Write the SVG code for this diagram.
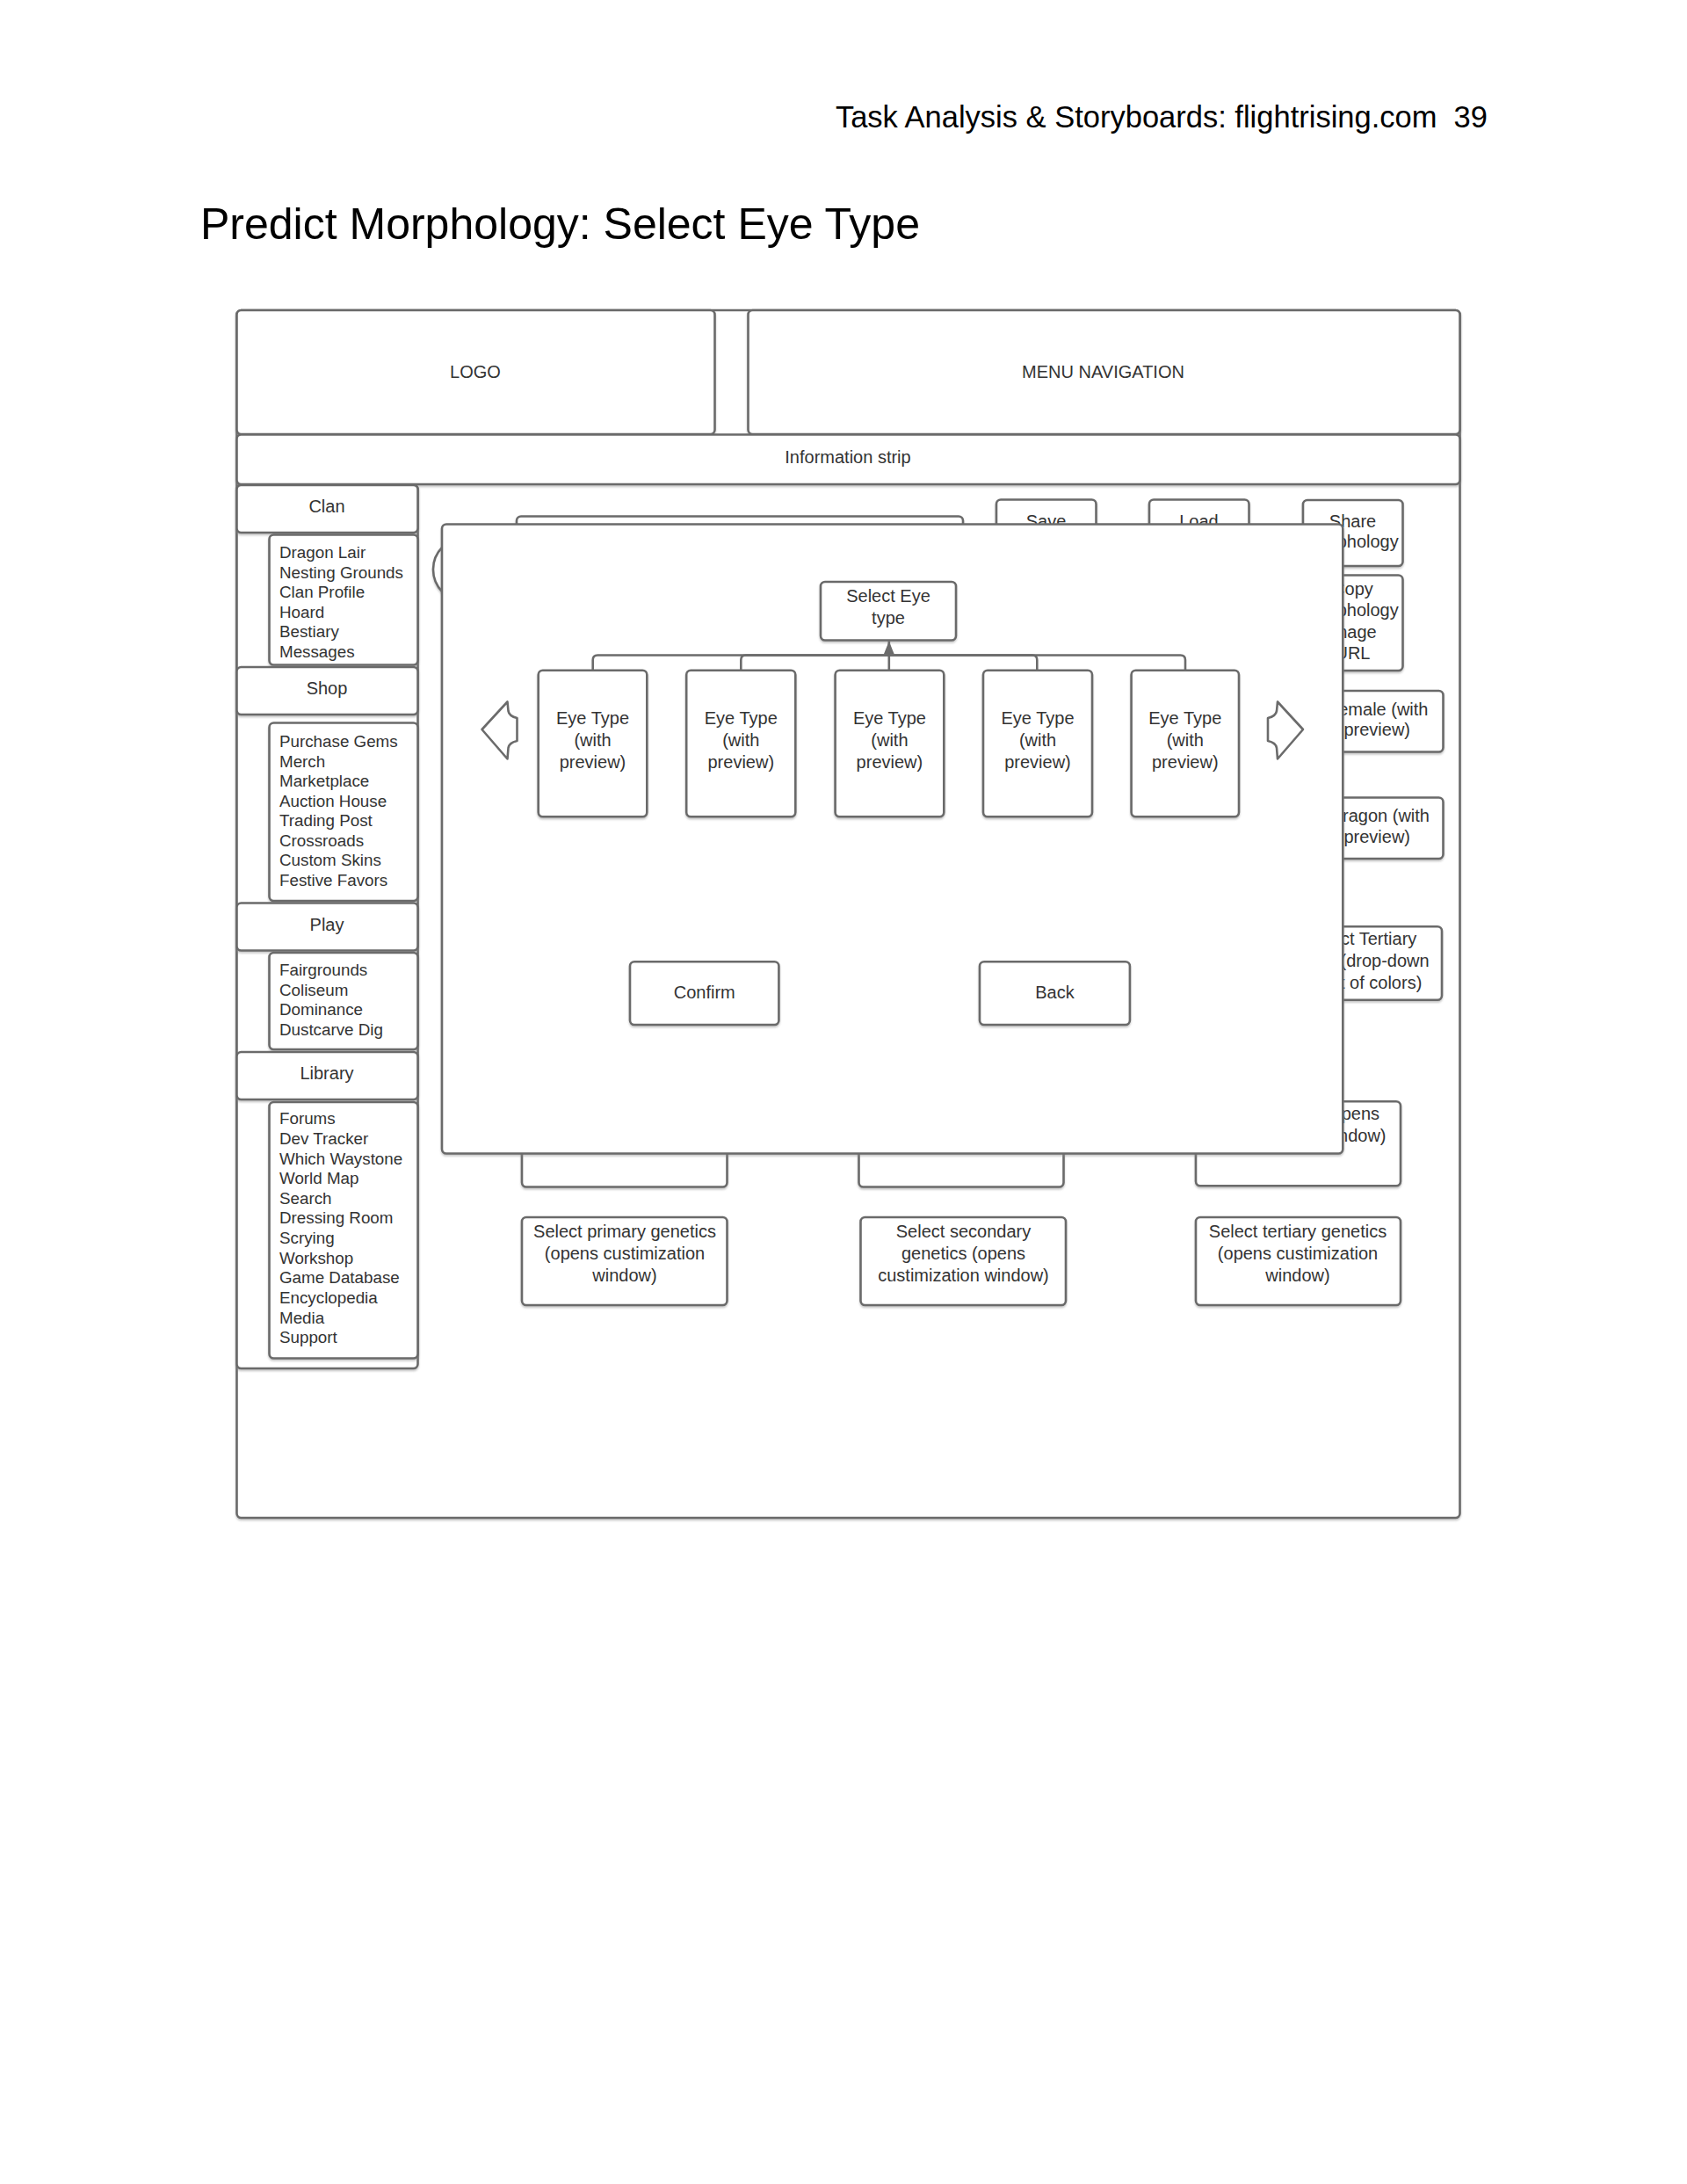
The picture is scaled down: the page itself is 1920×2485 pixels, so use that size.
<svg xmlns="http://www.w3.org/2000/svg" width="1920" height="2485" viewBox="0 0 1920 2485">
<style>
  .b { fill:#fff; stroke:#6b6b6b; stroke-width:2.6; filter:url(#sh); }
  .t { font-family:"Liberation Sans", Arial, Helvetica, sans-serif; font-size:20px; fill:#333; }
  .c { text-anchor:middle; }
  .e { text-anchor:end; }
  .n { font-family:"Liberation Sans", Arial, Helvetica, sans-serif; font-size:18.8px; fill:#333; }
  .h { font-family:"Liberation Sans", Arial, Helvetica, sans-serif; fill:#000; }
  .ln { fill:none; stroke:#6b6b6b; stroke-width:2.6; }
</style>
<defs>
  <filter id="sh" x="-5%" y="-5%" width="110%" height="115%">
    <feDropShadow dx="0" dy="2" stdDeviation="0.8" flood-color="#888" flood-opacity="0.45"/>
  </filter>
  <marker id="arr" viewBox="0 0 15 12" refX="15" refY="6" markerWidth="15" markerHeight="12" markerUnits="userSpaceOnUse" orient="auto">
    <path d="M0,0 L15,6 L0,12 Z" fill="#6b6b6b"/>
  </marker>
  <path id="larrow" d="M548.5,830 L577.5,798.5 L578.5,809 Q579.5,815 588.5,817 V843 Q579.5,845 578.5,851 L577.5,863.5 Z"/>
</defs>
<rect width="1920" height="2485" fill="#fff"/>

<g id="page-header">
  <text class="h" x="1693" y="145" font-size="34.5" text-anchor="end" xml:space="preserve">Task Analysis &amp; Storyboards: flightrising.com  39</text>
  <text class="h" x="228" y="272" font-size="50">Predict Morphology: Select Eye Type</text>
</g>

<g id="frame"><rect class="b" x="269.5" y="353" width="1392" height="1374" rx="5"/></g>
<g id="logo"><rect class="b" x="269.5" y="353" width="544" height="141" rx="5"/><text class="t c" x="541" y="430">LOGO</text></g>
<g id="menu-navigation"><rect class="b" x="851.5" y="353" width="810" height="141" rx="5"/><text class="t c" x="1255.5" y="430">MENU NAVIGATION</text></g>
<g id="information-strip"><rect class="b" x="269.5" y="494.5" width="1392" height="56.5" rx="5"/><text class="t c" x="965" y="527">Information strip</text></g>

<g id="left-nav">
  <rect class="b" x="269.5" y="551.5" width="206" height="1005.5" rx="5"/>
  <g id="clan">
    <rect class="b" x="269.5" y="552" width="206" height="54" rx="5"/>
    <text class="t c" x="372" y="583">Clan</text>
    <rect class="b" x="306.5" y="608.5" width="169" height="148" rx="5"/>
    <text class="n" x="318" y="635"><tspan x="318">Dragon Lair</tspan><tspan x="318" dy="22.5">Nesting Grounds</tspan><tspan x="318" dy="22.5">Clan Profile</tspan><tspan x="318" dy="22.5">Hoard</tspan><tspan x="318" dy="22.5">Bestiary</tspan><tspan x="318" dy="22.5">Messages</tspan></text>
  </g>
  <g id="shop">
    <rect class="b" x="269.5" y="759" width="206" height="54" rx="5"/>
    <text class="t c" x="372" y="790">Shop</text>
    <rect class="b" x="306.5" y="822.5" width="169" height="202.5" rx="5"/>
    <text class="n" x="318" y="850"><tspan x="318">Purchase Gems</tspan><tspan x="318" dy="22.57">Merch</tspan><tspan x="318" dy="22.57">Marketplace</tspan><tspan x="318" dy="22.57">Auction House</tspan><tspan x="318" dy="22.57">Trading Post</tspan><tspan x="318" dy="22.57">Crossroads</tspan><tspan x="318" dy="22.57">Custom Skins</tspan><tspan x="318" dy="22.57">Festive Favors</tspan></text>
  </g>
  <g id="play">
    <rect class="b" x="269.5" y="1027.5" width="206" height="54" rx="5"/>
    <text class="t c" x="372" y="1059">Play</text>
    <rect class="b" x="306.5" y="1084" width="169" height="110" rx="5"/>
    <text class="n" x="318" y="1110"><tspan x="318">Fairgrounds</tspan><tspan x="318" dy="22.5">Coliseum</tspan><tspan x="318" dy="22.5">Dominance</tspan><tspan x="318" dy="22.5">Dustcarve Dig</tspan></text>
  </g>
  <g id="library">
    <rect class="b" x="269.5" y="1197" width="206" height="54" rx="5"/>
    <text class="t c" x="372" y="1228">Library</text>
    <rect class="b" x="306.5" y="1254" width="169" height="291.5" rx="5"/>
    <text class="n" x="318" y="1279.3"><tspan x="318">Forums</tspan><tspan x="318" dy="22.63">Dev Tracker</tspan><tspan x="318" dy="22.63">Which Waystone</tspan><tspan x="318" dy="22.63">World Map</tspan><tspan x="318" dy="22.63">Search</tspan><tspan x="318" dy="22.63">Dressing Room</tspan><tspan x="318" dy="22.63">Scrying</tspan><tspan x="318" dy="22.63">Workshop</tspan><tspan x="318" dy="22.63">Game Database</tspan><tspan x="318" dy="22.63">Encyclopedia</tspan><tspan x="318" dy="22.63">Media</tspan><tspan x="318" dy="22.63">Support</tspan></text>
  </g>
</g>

<g id="background-page">
  <g id="preview-area"><rect class="b" x="588" y="587.5" width="508" height="120" rx="5"/><circle class="b" cx="529" cy="648" r="36"/></g>
  <g id="save"><rect class="b" x="1134" y="568.5" width="113.5" height="70" rx="5"/><text class="t c" x="1190.5" y="600">Save</text></g>
  <g id="load"><rect class="b" x="1308" y="568.5" width="113.5" height="70" rx="5"/><text class="t c" x="1364.5" y="600">Load</text></g>
  <g id="share"><rect class="b" x="1483" y="569" width="113.5" height="75" rx="5"/><text class="t c" x="1539.5" y="600"><tspan x="1539.5">Share</tspan><tspan x="1539.5" dy="23">morphology</tspan></text></g>
  <g id="copy"><rect class="b" x="1483" y="654.5" width="113.5" height="108.5" rx="5"/><text class="t c" x="1539.5" y="676.5"><tspan x="1539.5">Copy</tspan><tspan x="1539.5" dy="24.5">morphology</tspan><tspan x="1539.5" dy="24.5">image</tspan><tspan x="1539.5" dy="24.5">URL</tspan></text></g>
  <g id="female"><rect class="b" x="1470" y="786" width="172.5" height="69.5" rx="5"/><text class="t e" x="1625.5" y="813.5"><tspan x="1625.5">Female (with</tspan><tspan x="1605" dy="23.5">preview)</tspan></text></g>
  <g id="dragon"><rect class="b" x="1470" y="907.5" width="172.5" height="69.5" rx="5"/><text class="t e" x="1627" y="935"><tspan x="1627">Dragon (with</tspan><tspan x="1605" dy="24.3">preview)</tspan></text></g>
  <g id="tertiary-color"><rect class="b" x="1470" y="1054.3" width="171" height="83.4" rx="5"/><text class="t e" x="1612.3" y="1075"><tspan x="1612.3">Select Tertiary</tspan><tspan x="1626.7" dy="24.5">color (drop-down</tspan><tspan x="1618.3" dy="25.5">list of colors)</tspan></text></g>
  <g id="row-a-1"><rect class="b" x="594" y="1253" width="233.5" height="97.5" rx="5"/></g>
  <g id="row-a-2"><rect class="b" x="977.5" y="1253" width="233" height="97.5" rx="5"/></g>
  <g id="row-a-3"><rect class="b" x="1361" y="1253.3" width="233" height="96" rx="5"/><text class="t e" x="1570" y="1273.5"><tspan x="1570">Select color (opens</tspan><tspan x="1577.5" dy="25">customization window)</tspan></text></g>
  <g id="primary-genetics"><rect class="b" x="594" y="1385" width="233.5" height="100" rx="5"/><text class="t c" x="711" y="1407.5"><tspan x="711">Select primary genetics</tspan><tspan x="711" dy="25">(opens custimization</tspan><tspan x="711" dy="25">window)</tspan></text></g>
  <g id="secondary-genetics"><rect class="b" x="979.5" y="1385" width="233.5" height="100" rx="5"/><text class="t c" x="1096.5" y="1407.5"><tspan x="1096.5">Select secondary</tspan><tspan x="1096.5" dy="25">genetics (opens</tspan><tspan x="1096.5" dy="25">custimization window)</tspan></text></g>
  <g id="tertiary-genetics"><rect class="b" x="1361" y="1385" width="233" height="100" rx="5"/><text class="t c" x="1477" y="1407.5"><tspan x="1477">Select tertiary genetics</tspan><tspan x="1477" dy="25">(opens custimization</tspan><tspan x="1477" dy="25">window)</tspan></text></g>
</g>

<g id="modal">
  <rect class="b" x="503" y="596.5" width="1025.3" height="716" rx="5"/>
  <g id="select-eye-type"><rect class="b" x="934" y="662" width="154" height="66.5" rx="5"/><text class="t c" x="1011" y="685"><tspan x="1011">Select Eye</tspan><tspan x="1011" dy="25">type</tspan></text></g>
  <g id="eye-type-1"><rect class="b" x="612.7" y="762.7" width="123.6" height="166.6" rx="5"/><text class="t c" x="674.5" y="824"><tspan x="674.5">Eye Type</tspan><tspan x="674.5" dy="25">(with</tspan><tspan x="674.5" dy="25">preview)</tspan></text></g>
  <g id="eye-type-2"><rect class="b" x="781.2" y="762.7" width="124.1" height="166.6" rx="5"/><text class="t c" x="843.3" y="824"><tspan x="843.3">Eye Type</tspan><tspan x="843.3" dy="25">(with</tspan><tspan x="843.3" dy="25">preview)</tspan></text></g>
  <g id="eye-type-3"><rect class="b" x="950.6" y="762.7" width="123.7" height="166.6" rx="5"/><text class="t c" x="1012.4" y="824"><tspan x="1012.4">Eye Type</tspan><tspan x="1012.4" dy="25">(with</tspan><tspan x="1012.4" dy="25">preview)</tspan></text></g>
  <g id="eye-type-4"><rect class="b" x="1119" y="762.7" width="124" height="166.6" rx="5"/><text class="t c" x="1181" y="824"><tspan x="1181">Eye Type</tspan><tspan x="1181" dy="25">(with</tspan><tspan x="1181" dy="25">preview)</tspan></text></g>
  <g id="eye-type-5"><rect class="b" x="1287.6" y="762.7" width="122.4" height="166.6" rx="5"/><text class="t c" x="1348.8" y="824"><tspan x="1348.8">Eye Type</tspan><tspan x="1348.8" dy="25">(with</tspan><tspan x="1348.8" dy="25">preview)</tspan></text></g>
  <g id="prev-arrow"><use href="#larrow" fill="#fff" stroke="#6b6b6b" stroke-width="2.6" stroke-linejoin="round"/></g>
  <g id="next-arrow"><use href="#larrow" transform="translate(2031.5,0) scale(-1,1)" fill="#fff" stroke="#6b6b6b" stroke-width="2.6" stroke-linejoin="round"/></g>
  <g id="confirm"><rect class="b" x="717" y="1094.3" width="169.4" height="71.7" rx="5"/><text class="t c" x="801.7" y="1136">Confirm</text></g>
  <g id="back"><rect class="b" x="1115" y="1094.3" width="170.9" height="71.7" rx="5"/><text class="t c" x="1200.5" y="1136">Back</text></g>
</g>

<g id="connectors">
  <path class="ln" d="M674.7,762.7 V751 Q674.7,745.5 680.2,745.5 H1011.8"/>
  <path class="ln" d="M843.3,762.7 V751 Q843.3,745.5 848.8,745.5 H1011.8"/>
  <path class="ln" d="M1180.3,762.7 V751 Q1180.3,745.5 1174.8,745.5 H1011.8"/>
  <path class="ln" d="M1349,762.7 V751 Q1349,745.5 1343.5,745.5 H1011.8"/>
  <path class="ln" d="M1011.8,762.7 V729.5" marker-end="url(#arr)"/>
</g>
</svg>
